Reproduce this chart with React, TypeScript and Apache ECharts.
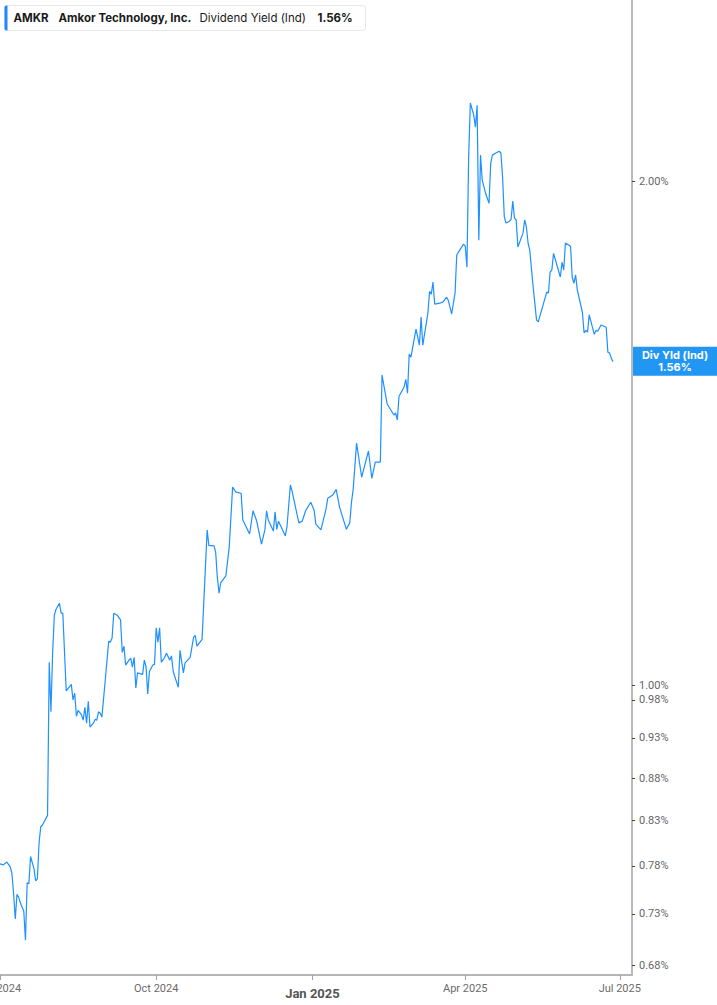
import React, { useEffect, useRef } from 'react';
import * as echarts from 'echarts';

const ticker = 'AMKR';
const company = 'Amkor Technology, Inc.';
const metric = 'Dividend Yield (Ind)';
const badgeTitle = 'Div Yld (Ind)';
const lastValue = 1.56;

const dates = [
  '2024-07-01','2024-07-03','2024-07-05','2024-07-07','2024-07-08','2024-07-09','2024-07-10','2024-07-11','2024-07-12','2024-07-13','2024-07-15','2024-07-16','2024-07-17','2024-07-18','2024-07-19','2024-07-21','2024-07-22','2024-07-23','2024-07-24','2024-07-25','2024-07-26','2024-07-29','2024-07-30','2024-07-31',
  '2024-08-01','2024-08-02','2024-08-03','2024-08-05','2024-08-06','2024-08-07','2024-08-09','2024-08-12','2024-08-13','2024-08-14','2024-08-15','2024-08-16','2024-08-18','2024-08-19','2024-08-20','2024-08-21','2024-08-22','2024-08-23','2024-08-25','2024-08-26','2024-08-27','2024-08-28','2024-08-29','2024-08-30',
  '2024-09-01','2024-09-03','2024-09-04','2024-09-05','2024-09-06','2024-09-08','2024-09-10','2024-09-11','2024-09-12','2024-09-13','2024-09-15','2024-09-16','2024-09-17','2024-09-18','2024-09-19','2024-09-20','2024-09-23','2024-09-24','2024-09-25','2024-09-26','2024-09-27','2024-09-29','2024-09-30',
  '2024-10-01','2024-10-02','2024-10-03','2024-10-04','2024-10-06','2024-10-07','2024-10-09','2024-10-10','2024-10-11','2024-10-14','2024-10-15','2024-10-17','2024-10-18','2024-10-21','2024-10-23','2024-10-24','2024-10-25','2024-10-28','2024-10-31',
  '2024-11-01','2024-11-04','2024-11-05','2024-11-06','2024-11-07','2024-11-08','2024-11-11','2024-11-13','2024-11-15','2024-11-17','2024-11-20','2024-11-21','2024-11-23','2024-11-25','2024-11-27','2024-11-29',
  '2024-12-02','2024-12-04','2024-12-05','2024-12-06','2024-12-09','2024-12-10','2024-12-11','2024-12-12','2024-12-16','2024-12-17','2024-12-19','2024-12-20','2024-12-24','2024-12-26','2024-12-28','2024-12-31',
  '2025-01-02','2025-01-03','2025-01-06','2025-01-09','2025-01-10','2025-01-13','2025-01-15','2025-01-17','2025-01-21','2025-01-23','2025-01-24','2025-01-25','2025-01-27','2025-01-30',
  '2025-02-03','2025-02-05','2025-02-07','2025-02-10','2025-02-11','2025-02-14','2025-02-18','2025-02-19','2025-02-20','2025-02-21','2025-02-24','2025-02-25','2025-02-26','2025-02-27','2025-02-28',
  '2025-03-03','2025-03-05','2025-03-06','2025-03-07','2025-03-10','2025-03-11','2025-03-12','2025-03-13','2025-03-14','2025-03-17','2025-03-19','2025-03-21','2025-03-22','2025-03-24','2025-03-26','2025-03-27','2025-03-28','2025-03-31',
  '2025-04-01','2025-04-02','2025-04-03','2025-04-04','2025-04-06','2025-04-07','2025-04-08','2025-04-09','2025-04-10','2025-04-11','2025-04-13','2025-04-15','2025-04-16','2025-04-17','2025-04-19','2025-04-21','2025-04-22','2025-04-23','2025-04-24','2025-04-25','2025-04-27','2025-04-28','2025-04-29','2025-04-30',
  '2025-05-01','2025-05-02','2025-05-05','2025-05-06','2025-05-07','2025-05-08','2025-05-09','2025-05-11','2025-05-13','2025-05-14','2025-05-19','2025-05-20','2025-05-21','2025-05-22','2025-05-23','2025-05-27','2025-05-28','2025-05-29','2025-05-30',
  '2025-06-02','2025-06-03','2025-06-04','2025-06-05','2025-06-06','2025-06-09','2025-06-10','2025-06-11','2025-06-12','2025-06-13','2025-06-16','2025-06-17','2025-06-18','2025-06-20','2025-06-23','2025-06-24','2025-06-25','2025-06-26','2025-06-27',
];

const yieldValues = [
  0.782, 0.781, 0.784, 0.779, 0.772, 0.751, 0.725, 0.750, 0.747, 0.741, 0.733, 0.704, 0.762, 0.761, 0.790, 0.777, 0.764, 0.766, 0.805, 0.823, 0.825, 0.836, 1.032, 0.964,
  1.046, 1.101, 1.110, 1.119, 1.104, 1.104, 0.992, 1.001, 0.980, 0.989, 0.958, 0.966, 0.960, 0.953, 0.970, 0.949, 0.978, 0.944, 0.949, 0.954, 0.953, 0.964, 0.962, 0.957,
  1.007, 1.062, 1.061, 1.067, 1.104, 1.101, 1.094, 1.046, 1.055, 1.028, 1.035, 1.038, 1.025, 1.039, 0.996, 1.017, 1.015, 1.035, 1.026, 0.988, 1.019, 1.028, 1.029,
  1.082, 1.061, 1.082, 1.032, 1.039, 1.045, 1.035, 1.041, 1.019, 0.997, 1.049, 1.017, 1.031, 1.039, 1.068, 1.071, 1.055, 1.065, 1.238,
  1.212, 1.211, 1.201, 1.160, 1.135, 1.151, 1.162, 1.209, 1.313, 1.304, 1.302, 1.255, 1.243, 1.231, 1.271, 1.255,
  1.214, 1.238, 1.271, 1.255, 1.236, 1.269, 1.239, 1.253, 1.228, 1.243, 1.317, 1.306, 1.250, 1.253, 1.271, 1.286,
  1.272, 1.248, 1.238, 1.274, 1.293, 1.299, 1.309, 1.277, 1.239, 1.250, 1.286, 1.309, 1.395, 1.331,
  1.380, 1.329, 1.359, 1.359, 1.532, 1.472, 1.450, 1.454, 1.440, 1.488, 1.507, 1.523, 1.494, 1.577, 1.570,
  1.632, 1.596, 1.659, 1.596, 1.668, 1.719, 1.712, 1.741, 1.689, 1.691, 1.694, 1.705, 1.698, 1.666, 1.715, 1.807, 1.814, 1.834,
  1.829, 1.777, 2.067, 2.227, 2.190, 2.154, 2.220, 1.844, 2.073, 2.003, 1.967, 1.940, 2.050, 2.073, 2.079, 2.084, 2.079, 2.011, 1.904, 1.888, 1.893, 1.898, 1.946, 1.901,
  1.896, 1.827, 1.862, 1.896, 1.878, 1.837, 1.819, 1.729, 1.652, 1.648, 1.717, 1.715, 1.765, 1.770, 1.811, 1.753, 1.789, 1.770, 1.837,
  1.829, 1.753, 1.738, 1.758, 1.722, 1.670, 1.623, 1.629, 1.625, 1.664, 1.620, 1.629, 1.627, 1.641, 1.636, 1.581, 1.579, 1.568, 1.560,
];

const yTickValues = [0.68, 0.73, 0.78, 0.83, 0.88, 0.93, 0.98, 1.0, 2.0];
const xTickDates = ['2024-07-01', '2024-10-01', '2025-01-01', '2025-04-01', '2025-07-01'];
const xRange = ['2024-07-01', '2025-07-08'];
const yRange = [0.6712, 2.566];
const monthNames = ['Jan', 'Feb', 'Mar', 'Apr', 'May', 'Jun', 'Jul', 'Aug', 'Sep', 'Oct', 'Nov', 'Dec'];

function toTime(s: string): number {
  const [y, m, d] = s.split('-').map(Number);
  return new Date(y, m - 1, d).getTime();
}

const LINE = '#1e90ff';
const BADGE = '#2196f3';

export default function App() {
  const ref = useRef<HTMLDivElement>(null);
  useEffect(() => {
    const chart = echarts.init(ref.current!, null, { renderer: 'svg' });
    const xTicks = xTickDates.map(toTime);
    const seriesData = dates.map((d, i) => [toTime(d), yieldValues[i]]);
    chart.setOption({
      animation: false,
      backgroundColor: '#ffffff',
      grid: { left: 0, right: 85, top: 0, bottom: 30, containLabel: false, outerBoundsMode: 'none' },
      xAxis: {
        type: 'value',
        min: toTime(xRange[0]),
        max: toTime(xRange[1]) + 5 * 3600 * 1000,
        axisLine: { show: true, lineStyle: { color: '#b5b5b5', width: 2 } },
        axisTick: { show: true, customValues: xTicks, length: 5, lineStyle: { color: '#a0a0a0', width: 1 } },
        axisLabel: {
          customValues: xTicks,
          margin: 8,
          color: '#6b6b6b',
          fontSize: 11,
          fontFamily: 'Roboto',
          formatter: (v: number) => {
            const d = new Date(v);
            const txt = monthNames[d.getMonth()] + ' ' + d.getFullYear();
            return d.getMonth() === 0 ? '{b|' + txt + '}' : '{n|' + txt + '}';
          },
          rich: {
            n: { fontSize: 11, color: '#6b6b6b', fontFamily: 'Roboto' },
            b: { fontSize: 13, fontWeight: 'bold', color: '#555555', fontFamily: 'Roboto', padding: [4, 0, 0, 0] },
          },
        },
        splitLine: { show: false },
      },
      yAxis: {
        type: 'log',
        logBase: 10,
        position: 'right',
        min: yRange[0],
        max: yRange[1],
        axisLine: { show: true, lineStyle: { color: '#a3a3a3', width: 1.5 } },
        axisTick: { show: true, customValues: yTickValues, length: 3, lineStyle: { color: '#444', width: 1 } },
        axisLabel: {
          customValues: yTickValues,
          margin: 7,
          color: '#666',
          fontSize: 11,
          fontFamily: 'Roboto',
          formatter: (v: number) => Number(v).toFixed(2) + '%',
        },
        splitLine: { show: false },
      },
      series: [
        {
          type: 'line',
          data: seriesData,
          showSymbol: false,
          symbol: 'none',
          lineStyle: { color: LINE, width: 1.2 },
          itemStyle: { color: LINE },
        },
      ],
    });

    const yPix = chart.convertToPixel({ yAxisIndex: 0 }, lastValue) as number;
    const font = "11.5px Inter, 'Noto Sans', sans-serif";
    const bold = "bold 11.5px Inter, 'Noto Sans', sans-serif";
    chart.setOption({
      graphic: [
        {
          type: 'group',
          left: 4,
          top: 5,
          children: [
            { type: 'rect', shape: { x: 0, y: 0, width: 361, height: 25, r: 3 }, style: { fill: '#ffffff', stroke: '#e6e6e6', lineWidth: 1 } },
            { type: 'rect', shape: { x: 0, y: 0, width: 3, height: 25, r: [2, 0, 0, 2] }, style: { fill: '#1e88ff' } },
            { type: 'text', x: 9, y: 12.5, style: { text: ticker, font: bold, fill: '#1a1a1a', verticalAlign: 'middle' } },
            { type: 'text', x: 54, y: 12.5, style: { text: company, font: bold, fill: '#1a1a1a', verticalAlign: 'middle' } },
            { type: 'text', x: 195, y: 12.5, style: { text: metric, font: font, fill: '#1a1a1a', verticalAlign: 'middle' } },
            { type: 'text', x: 313, y: 12.5, style: { text: lastValue.toFixed(2) + '%', font: bold, fill: '#1a1a1a', verticalAlign: 'middle' } },
          ],
        },
        {
          type: 'group',
          x: 633,
          y: yPix - 15,
          children: [
            { type: 'rect', shape: { x: 0, y: 0, width: 84, height: 29 }, style: { fill: BADGE } },
            { type: 'text', x: 42, y: 8.5, style: { text: badgeTitle, font: "bold 11px Inter, 'Noto Sans', sans-serif", fill: '#fff', align: 'center', verticalAlign: 'middle' } },
            { type: 'text', x: 42, y: 20.5, style: { text: lastValue.toFixed(2) + '%', font: "bold 11px Inter, 'Noto Sans', sans-serif", fill: '#fff', align: 'center', verticalAlign: 'middle' } },
          ],
        },
      ],
    });

    return () => chart.dispose();
  }, []);
  return <div ref={ref} style={{ position: 'absolute', left: 0, top: 0, width: 717, height: 1005 }} />;
}
